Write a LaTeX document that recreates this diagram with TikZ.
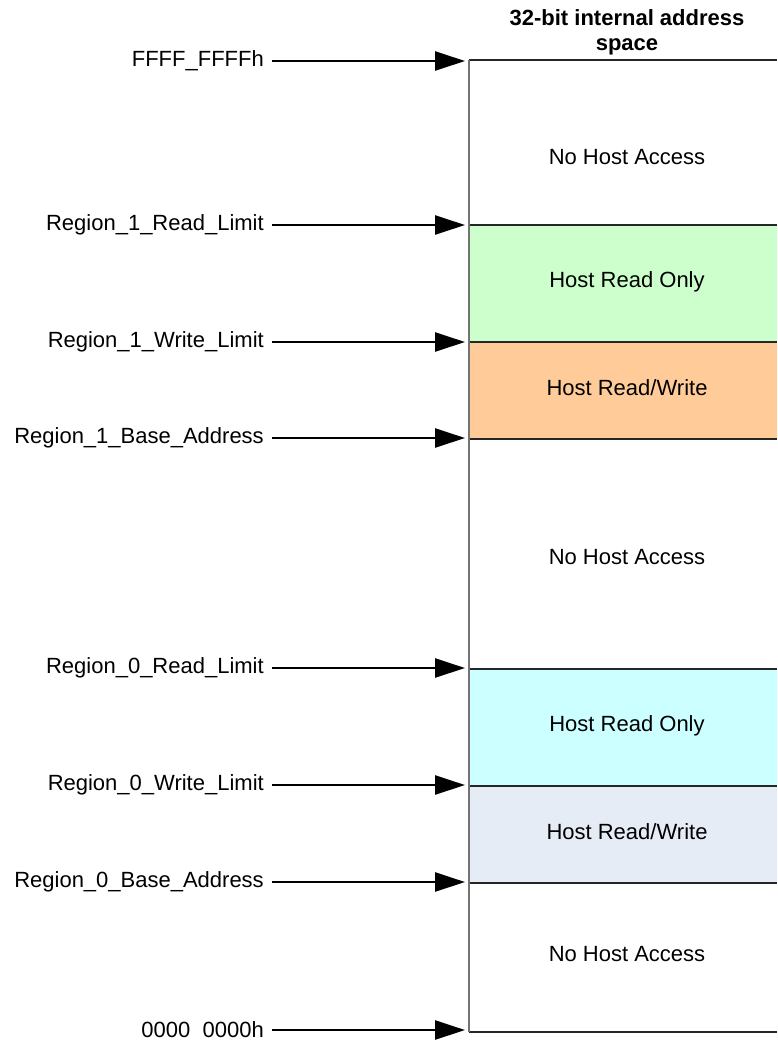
\documentclass[tikz,border=0pt]{standalone}
\usepackage{fontspec}
\setmainfont{Liberation Sans}
\usetikzlibrary{arrows.meta}
\definecolor{rdgreen}{HTML}{CCFFCC}
\definecolor{rworange}{HTML}{FFCC99}
\definecolor{rdcyan}{HTML}{CCFFFF}
\definecolor{rwblue}{HTML}{E6ECF5}
\tikzset{
  addrlabel/.style={anchor=east, inner xsep=8pt, inner ysep=0pt},
  addrarrow/.style={line width=2.6pt, -{Triangle[length=30pt,width=19pt]}},
  border/.style={draw=black!85, line width=1.2pt}
}
\begin{document}
\begin{tikzpicture}[x=1pt,y=-1pt,font=\fontsize{22}{26}\selectfont]
\useasboundingbox (0,0) rectangle (777,1044);
% regions of the address space
\foreach \top/\bot/\ty/\col/\txt [count=\i] in {
    60/225/157/white/{No Host Access},
    225/342/282/rdgreen/{Host Read Only},
    342/439/388/rworange/{Host Read/Write},
    439/669/557/white/{No Host Access},
    669/786/726/rdcyan/{Host Read Only},
    786/883/832/rwblue/{Host Read/Write},
    883/1032/954/white/{No Host Access}} {
    \fill[\col] (469,\top) rectangle (777,\bot);
    \draw[border] (469,\top) -- (777,\top);
    \node (reg\i) at (627,\ty) {\txt};
}
\draw[border] (469,1032) -- (777,1032);
\draw[black!55, line width=1.5pt] (469,60) -- (469,1032);
\node[font=\fontsize{22}{25}\selectfont\bfseries, align=center] (title) at (627,32) {32-bit internal address\\space};
% address pointers
\foreach \y/\lab [count=\i] in {
    61/FFFF\_FFFFh,
    225/Region\_1\_Read\_Limit,
    342/Region\_1\_Write\_Limit,
    438/Region\_1\_Base\_Address,
    668/Region\_0\_Read\_Limit,
    785/Region\_0\_Write\_Limit,
    882/Region\_0\_Base\_Address,
    1030/0000\ \ 0000h} {
    \node[addrlabel] (lab\i) at (272,\y) {\lab};
    \coordinate (edge\i) at (465,\y);
    \draw[addrarrow] (lab\i) -- (edge\i);
}
\end{tikzpicture}
\end{document}
